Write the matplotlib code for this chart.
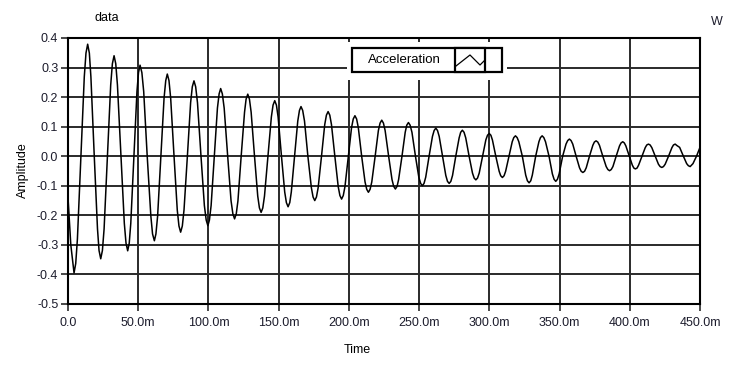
import matplotlib
matplotlib.use('Agg')
import matplotlib.pyplot as plt
from matplotlib.patches import Rectangle
from matplotlib.lines import Line2D
from matplotlib.ticker import FixedLocator, FuncFormatter

plt.rcParams['font.family'] = ['Liberation Sans', 'DejaVu Sans']
plt.rcParams['axes.unicode_minus'] = False

# waveform (time in ms, amplitude)
time_ms = [
    0.0, 2.0,
    4.3, 5.5, 6.7, 9.2, 11.6, 12.8,
    14.0, 15.2, 16.3, 18.7, 21.0, 22.1,
    23.3, 24.5, 25.7, 28.1, 30.4, 31.6,
    32.8, 34.0, 35.2, 37.7, 40.1, 41.3,
    42.5, 43.6, 44.7, 46.9, 49.1, 50.2,
    51.3, 52.6, 53.9, 56.4, 59.0, 60.2,
    61.5, 62.6, 63.8, 66.1, 68.4, 69.6,
    70.7, 71.9, 73.1, 75.5, 77.8, 79.0,
    80.2, 81.4, 82.6, 85.0, 87.3, 88.5,
    89.7, 90.9, 92.2, 94.7, 97.1, 98.4,
    99.6, 100.7, 101.9, 104.2, 106.4, 107.6,
    108.7, 109.9, 111.2, 113.7, 116.1, 117.4,
    118.6, 119.8, 121.0, 123.3, 125.7, 126.8,
    128.0, 129.2, 130.4, 132.8, 135.1, 136.3,
    137.5, 138.7, 139.9, 142.4, 144.8, 146.0,
    147.2, 148.4, 149.6, 152.0, 154.3, 155.5,
    156.7, 157.9, 159.0, 161.3, 163.6, 164.8,
    165.9, 167.1, 168.4, 170.8, 173.3, 174.5,
    175.7, 176.9, 178.1, 180.5, 182.8, 184.0,
    185.2, 186.4, 187.6, 190.0, 192.4, 193.6,
    194.8, 196.0, 197.2, 199.6, 201.9, 203.1,
    204.3, 205.5, 206.7, 209.1, 211.5, 212.7,
    213.9, 215.1, 216.3, 218.7, 221.0, 222.2,
    223.4, 224.6, 225.8, 228.3, 230.7, 231.9,
    233.1, 234.3, 235.4, 237.8, 240.1, 241.2,
    242.4, 243.6, 244.9, 247.4, 249.8, 251.1,
    252.3, 253.5, 254.7, 257.1, 259.5, 260.7,
    261.9, 263.1, 264.3, 266.7, 269.0, 270.2,
    271.4, 272.6, 273.8, 276.1, 278.5, 279.6,
    280.8, 282.0, 283.2, 285.6, 288.0, 289.2,
    290.4, 291.6, 292.8, 295.2, 297.5, 298.7,
    299.9, 301.1, 302.2, 304.6, 307.0, 308.1,
    309.3, 310.5, 311.6, 314.0, 316.3, 317.4,
    318.6, 319.8, 321.0, 323.5, 325.9, 327.1,
    328.3, 329.5, 330.6, 333.0, 335.3, 336.4,
    337.6, 338.8, 340.0, 342.5, 344.9, 346.1,
    347.3, 348.5, 349.7, 352.2, 354.6, 355.8,
    357.0, 358.2, 359.4, 361.8, 364.2, 365.4,
    366.6, 367.8, 369.0, 371.3, 373.7, 374.8,
    376.0, 377.2, 378.4, 380.8, 383.2, 384.4,
    385.6, 386.8, 388.0, 390.3, 392.7, 393.8,
    395.0, 396.1, 397.2, 399.5, 401.8, 402.9,
    404.0, 405.2, 406.3, 408.7, 411.0, 412.1,
    413.3, 414.5, 415.7, 418.1, 420.4, 421.6,
    422.8, 424.0, 425.2, 427.6, 430.0, 431.1,
    432.3, 433.6, 435.5, 438.0, 440.5, 441.7,
    443.0, 445.0, 447.5, 450.0,
]
acceleration = [
    -0.140, -0.300,
    -0.395, -0.363, -0.280, 0.000, 0.269, 0.349,
    0.379, 0.349, 0.269, 0.000, -0.246, -0.319,
    -0.347, -0.319, -0.246, 0.000, 0.241, 0.313,
    0.340, 0.313, 0.241, 0.000, -0.227, -0.294,
    -0.320, -0.294, -0.227, 0.000, 0.219, 0.283,
    0.308, 0.283, 0.219, 0.000, -0.203, -0.263,
    -0.286, -0.263, -0.203, 0.000, 0.197, 0.256,
    0.278, 0.256, 0.197, 0.000, -0.182, -0.236,
    -0.257, -0.236, -0.182, 0.000, 0.181, 0.235,
    0.255, 0.235, 0.181, 0.000, -0.167, -0.216,
    -0.235, -0.216, -0.167, 0.000, 0.163, 0.211,
    0.229, 0.211, 0.163, 0.000, -0.151, -0.195,
    -0.212, -0.195, -0.151, 0.000, 0.149, 0.193,
    0.210, 0.193, 0.149, 0.000, -0.135, -0.175,
    -0.190, -0.175, -0.135, 0.000, 0.133, 0.173,
    0.188, 0.173, 0.133, 0.000, -0.121, -0.157,
    -0.171, -0.157, -0.121, 0.000, 0.119, 0.155,
    0.168, 0.155, 0.119, 0.000, -0.107, -0.138,
    -0.150, -0.138, -0.107, 0.000, 0.107, 0.139,
    0.151, 0.139, 0.107, 0.000, -0.103, -0.133,
    -0.145, -0.133, -0.103, 0.000, 0.097, 0.126,
    0.137, 0.126, 0.097, 0.000, -0.087, -0.112,
    -0.122, -0.112, -0.087, 0.000, 0.087, 0.112,
    0.122, 0.112, 0.087, 0.000, -0.079, -0.102,
    -0.111, -0.102, -0.079, 0.000, 0.081, 0.105,
    0.114, 0.105, 0.081, 0.000, -0.071, -0.092,
    -0.100, -0.092, -0.071, 0.000, 0.067, 0.087,
    0.095, 0.087, 0.067, 0.000, -0.065, -0.085,
    -0.092, -0.085, -0.065, 0.000, 0.062, 0.081,
    0.088, 0.081, 0.062, 0.000, -0.057, -0.074,
    -0.080, -0.074, -0.057, 0.000, 0.055, 0.071,
    0.077, 0.071, 0.055, 0.000, -0.051, -0.066,
    -0.072, -0.066, -0.051, 0.000, 0.049, 0.063,
    0.069, 0.063, 0.049, 0.000, -0.064, -0.083,
    -0.090, -0.083, -0.064, 0.000, 0.049, 0.063,
    0.069, 0.063, 0.049, 0.000, -0.060, -0.078,
    -0.085, -0.078, -0.060, 0.000, 0.041, 0.053,
    0.058, 0.053, 0.041, 0.000, -0.039, -0.051,
    -0.055, -0.051, -0.039, 0.000, 0.037, 0.048,
    0.052, 0.048, 0.037, 0.000, -0.035, -0.045,
    -0.049, -0.045, -0.035, 0.000, 0.035, 0.045,
    0.049, 0.045, 0.035, 0.003, -0.030, -0.040,
    -0.043, -0.040, -0.030, 0.000, 0.029, 0.038,
    0.041, 0.038, 0.029, 0.000, -0.027, -0.035,
    -0.038, -0.035, -0.027, 0.000, 0.029, 0.038,
    0.041, 0.036, 0.030, 0.002, -0.025, -0.032,
    -0.035, -0.025, 0.000, 0.030,
]

x_ticks = [0, 50, 100, 150, 200, 250, 300, 350, 400, 450]
y_ticks = [-0.5, -0.4, -0.3, -0.2, -0.1, 0.0, 0.1, 0.2, 0.3, 0.4]

W, H = 737, 369
fig = plt.figure(figsize=(W / 100, H / 100), dpi=100)
# plot area in pixels: x 68..700, y 38..304
ax = fig.add_axes([68 / W, 1 - 304 / H, (700 - 68) / W, (304 - 38) / H])

ax.plot(time_ms, acceleration, color='black', lw=1.1, zorder=3)

ax.set_xlim(0, 450)
ax.set_ylim(-0.5, 0.4)
ax.xaxis.set_major_locator(FixedLocator(x_ticks))
ax.yaxis.set_major_locator(FixedLocator(y_ticks))
ax.xaxis.set_major_formatter(FuncFormatter(lambda v, p: '0.0' if v == 0 else f'{v:.1f}m'))
ax.yaxis.set_major_formatter(FuncFormatter(lambda v, p: f'{v:.1f}'))

ax.grid(True, color='#2a2a2a', lw=1.4)
ax.set_axisbelow(True)
for s in ax.spines.values():
    s.set_linewidth(1.5)
    s.set_color('black')
ax.tick_params(axis='both', direction='out', length=5, width=1.2,
               labelsize=9, labelcolor='#1c1c2c', color='#2a2a2a')
ax.tick_params(axis='x', pad=4)
ax.tick_params(axis='y', pad=2)

# labels
fig.text(23 / W, 1 - 170 / H, 'Amplitude', rotation=90, ha='center', va='center', fontsize=9)
fig.text(357 / W, 1 - 350 / H, 'Time', ha='center', va='center', fontsize=9)
fig.text(107 / W, 1 - 18 / H, 'data', ha='center', va='center', fontsize=9)
fig.text(717 / W, 1 - 22 / H, 'W', ha='center', va='center', fontsize=9, color='#1c1c2c')

# legend (LabVIEW style plot legend)
def px_rect(x0, y0, x1, y1, **kw):
    return Rectangle((x0 / W, 1 - y1 / H), (x1 - x0) / W, (y1 - y0) / H,
                     transform=fig.transFigure, **kw)

fig.add_artist(px_rect(347, 42, 507, 80, facecolor='white', edgecolor='none', zorder=5))
fig.add_artist(px_rect(352, 48, 501.5, 71.5, facecolor='white', edgecolor='black', lw=1.6, zorder=6))
fig.add_artist(px_rect(455, 48, 485, 71.5, facecolor='white', edgecolor='black', lw=1.6, zorder=7))
fig.text(404 / W, 1 - 60 / H, 'Acceleration', ha='center', va='center', fontsize=9.5, zorder=8)
icon_x = [456, 470, 480, 485]
icon_y = [66, 55, 65, 60]
fig.add_artist(Line2D([v / W for v in icon_x], [1 - v / H for v in icon_y],
                      color='black', lw=0.9, transform=fig.transFigure, zorder=8))

fig.savefig('out.png', dpi=100)
